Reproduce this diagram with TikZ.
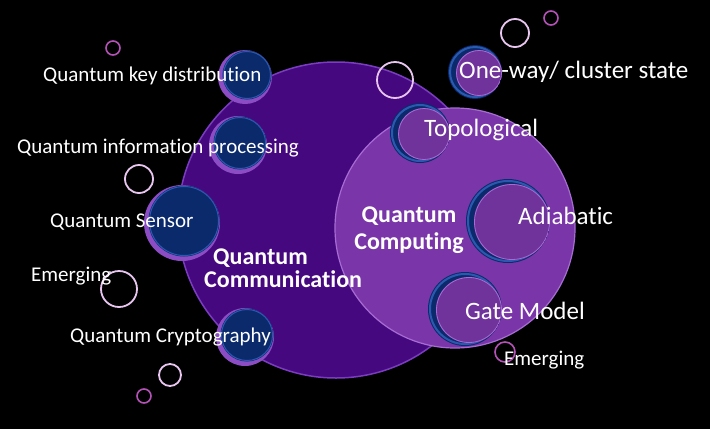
\documentclass[tikz,border=0pt]{standalone}
\usepackage{fontspec}
\setmainfont{Carlito}[Ligatures={NoCommon,NoRequired,NoContextual}, RawFeature={-liga;-clig;-calt}]
\usetikzlibrary{positioning}

\definecolor{deepviolet}{HTML}{46087E}
\definecolor{deeprim}{HTML}{7A3CC0}
\definecolor{lightviolet}{HTML}{7A36A8}
\definecolor{lightrim}{HTML}{A66CD4}
\definecolor{navy}{HTML}{0B2A6C}
\definecolor{navyglow}{HTML}{2A5AB0}
\definecolor{navyrim}{HTML}{8C4CC4}
\definecolor{ringpink}{HTML}{E8C6F0}
\definecolor{ringmag}{HTML}{B452B8}

\tikzset{
  small/.style={font=\fontsize{21}{25}\selectfont, text=white, inner sep=0pt},
  large/.style={font=\fontsize{25}{29}\selectfont, text=white, inner sep=0pt},
  heading/.style={font=\fontsize{24}{#1}\selectfont\bfseries, text=white, inner sep=0pt},
  navybubble/.style={circle, inner sep=0pt, minimum size={2*#1pt}, fill=navyrim,
    path picture={
      \fill[navy] ([shift={(2pt,2pt)}]path picture bounding box.center) circle ({#1pt-2.5pt});
      \draw[navyglow, line width=1pt] ([shift={(2pt,2pt)}]path picture bounding box.center) circle ({#1pt-3.5pt});
    }},
  violetbubble/.style={circle, inner sep=0pt, minimum size={2*#1pt}, fill=navy,
    path picture={
      \draw[navyglow, line width=2pt] (path picture bounding box.center) circle ({#1pt-2pt});
      \fill[lightviolet!92!black] ([shift={(4pt,-1pt)}]path picture bounding box.center) circle ({#1pt-4pt});
      \draw[lightrim, line width=0.8pt] ([shift={(4pt,-1pt)}]path picture bounding box.center) circle ({#1pt-4.5pt});
    }},
  ring/.style={circle, inner sep=0pt, minimum size={2*#1pt}, draw=ringpink, line width=1.8pt},
  tinyring/.style={circle, inner sep=0pt, minimum size={2*#1pt}, draw=ringmag, line width=1.6pt},
}

\begin{document}
\begin{tikzpicture}[x=1pt, y=-1pt]
   \fill[black] (0,0) rectangle (710,429);
   \useasboundingbox (0,0) rectangle (710,429);

   % the two fields
   \node[circle, inner sep=0pt, minimum size=316pt, fill=deepviolet, draw=deeprim, line width=1.5pt] (comm) at (336,220) {};
   \node[circle, inner sep=0pt, minimum size=240pt, fill=lightviolet, draw=lightrim, line width=1.2pt] (comp) at (455,228) {};

   % bubbles
   \node[navybubble=27] (qkdb) at (245,77) {};
   \node[navybubble=29] (qipb) at (238,145) {};
   \node[navybubble=38] (qsb)  at (182,223) {};
   \node[navybubble=29] (qcb)  at (245,337) {};

   \node[violetbubble=27] (owb)   at (475,72) {};
   \node[violetbubble=30] (topob) at (420,133) {};
   \node[violetbubble=42] (adiab) at (508,221) {};
   \node[violetbubble=37] (gateb) at (465,309) {};

   % rings
   \node[tinyring=7] (r1) at (113,48) {};
   \node[ring=14] (r2) at (139,179) {};
   \node[ring=18] (r3) at (119,289) {};
   \node[ring=11] (r4) at (170,375) {};
   \node[tinyring=7] (r5) at (144,396) {};
   \node[ring=14] (r6) at (515,33) {};
   \node[tinyring=7] (r7) at (551,18) {};
   \node[ring=18] (r8) at (395,80) {};
   \node[tinyring=10] (r9) at (505,352) {};

   % labels
   \node[small, anchor=west] (qkd)  at (43,76)  {Quantum key distribution};
   \node[small, anchor=west] (qip)  at (17,148) {Quantum information processing};
   \node[small, anchor=west] (qs)   at (50,222) {Quantum Sensor};
   \node[small, anchor=west] (em1)  at (31,276) {Emerging};
   \node[small, anchor=west] (qc)   at (70,337) {Quantum Cryptography};
   \node[heading=23, anchor=west, align=left] (qcomm) at (204,268) {\hspace*{9pt}Quantum\\Communication};

   \node[heading=27, align=center] (qcomp) at (409,230) {Quantum\\Computing};
   \node[large, anchor=west] (ow)    at (459,72)  {One-way/ cluster state};
   \node[large, anchor=west] (topo)  at (424,130) {Topological};
   \node[large, anchor=west] (adia)  at (518,216) {Adiabatic};
   \node[large, anchor=west] (gate)  at (465,311) {Gate Model};
   \node[small, anchor=west] (em2)   at (504,360) {Emerging};
\end{tikzpicture}
\end{document}
